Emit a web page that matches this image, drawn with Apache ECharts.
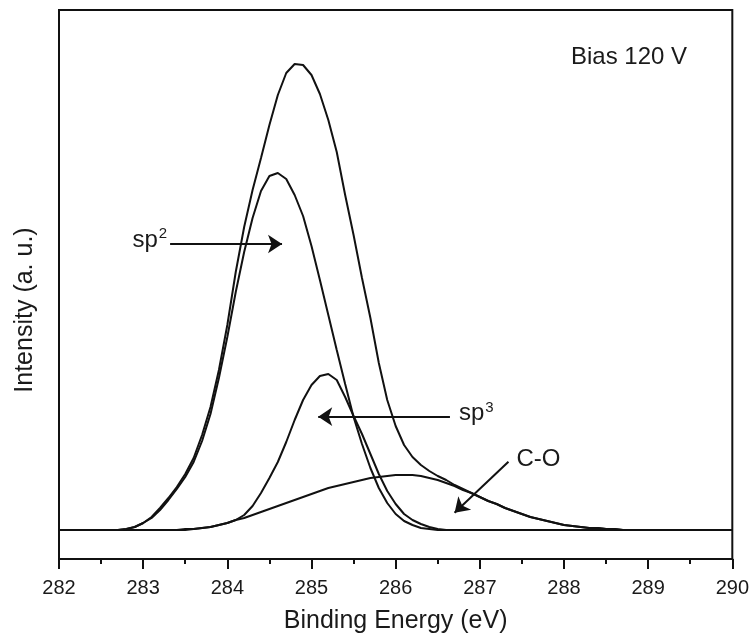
<!DOCTYPE html>
<html>
<head>
<meta charset="utf-8">
<script src="https://cdn.jsdelivr.net/npm/echarts@6/dist/echarts.min.js"></script>
<style>
html, body { margin: 0; padding: 0; background: #fff; }
#chart { width: 752px; height: 639px; }
</style>
</head>
<body>
<div id="chart"></div>
<script>
// binding energy grid (eV)
var energy = [282.0,
  282.6, 282.7, 282.8, 282.9,
  283.0, 283.1, 283.2, 283.3, 283.4, 283.5, 283.6, 283.7, 283.8, 283.9,
  284.0, 284.1, 284.2, 284.3, 284.4, 284.5, 284.6, 284.7, 284.8, 284.9,
  285.0, 285.1, 285.2, 285.3, 285.4, 285.5, 285.6, 285.7, 285.8, 285.9,
  286.0, 286.1, 286.2, 286.3, 286.4, 286.5, 286.6, 286.7, 286.8, 286.9,
  287.0, 287.1, 287.2, 287.3, 287.4, 287.5, 287.6, 287.7, 287.8, 287.9,
  288.0, 288.1, 288.2, 288.3, 288.4, 288.5, 288.6, 288.7, 288.8, 288.9,
  289.0, 290.0];

// measured envelope
var envelope = [0,
  0, 0, 1, 3,
  7, 13, 22, 32, 43, 56, 72, 95, 123, 160,
  205, 258, 303, 340, 372, 405, 435, 457, 466, 465,
  455, 436, 410, 378, 335, 295, 252, 212, 167, 130,
  104, 85, 73, 65, 59, 54, 50, 45, 41, 37,
  33, 29, 26, 22, 19, 16, 13, 11, 9, 7,
  5, 4, 3, 2, 2, 1, 1, 0, 0, 0,
  0, 0];

// sp2 component
var sp2 = [0,
  0, 0, 1, 3,
  7, 12, 20, 30, 41, 53, 68, 89, 116, 152,
  193, 238, 278, 312, 339, 354, 357, 351, 335, 314,
  284, 250, 215, 180, 146, 113, 86, 62, 42, 27,
  16, 9, 5, 2, 1, 0, 0, 0, 0, 0,
  0, 0, 0, 0, 0, 0, 0, 0, 0, 0,
  0, 0, 0, 0, 0, 0, 0, 0, 0, 0,
  0, 0];

// sp3 component
var sp3 = [0,
  0, 0, 0, 0,
  0, 0, 0, 0, 0, 0, 1, 2, 3, 5,
  7, 10, 15, 24, 37, 52, 68, 88, 110, 130,
  145, 154, 156, 150, 133, 114, 96, 76, 56, 39,
  26, 16, 10, 6, 3, 1, 0, 0, 0, 0,
  0, 0, 0, 0, 0, 0, 0, 0, 0, 0,
  0, 0, 0, 0, 0, 0, 0, 0, 0, 0,
  0, 0];

// C-O component
var co = [0,
  0, 0, 0, 0,
  0, 0, 0, 0, 0, 1, 1, 2, 3, 5,
  7, 10, 12, 15, 18, 21, 24, 27, 30, 33,
  36, 39, 42, 44, 46, 48, 50, 52, 53, 54,
  55, 55, 55, 54, 52, 50, 47, 44, 40, 37,
  33, 29, 26, 22, 19, 16, 13, 11, 9, 7,
  5, 4, 3, 2, 2, 1, 1, 0, 0, 0,
  0, 0];

var xTicks = [282, 283, 284, 285, 286, 287, 288, 289, 290];

var font = '"Liberation Sans", Arial, sans-serif';
var ink = '#111';

function pairs(ys) {
  return energy.map(function (e, i) { return [e, ys[i]]; });
}

function curve(name, ys, extra) {
  var s = {
    name: name,
    type: 'line',
    data: pairs(ys),
    symbol: 'none',
    silent: true,
    lineStyle: { color: ink, width: 2 },
    z: 3
  };
  for (var k in extra) s[k] = extra[k];
  return s;
}

var chart = echarts.init(document.getElementById('chart'));
chart.setOption({
  animation: false,
  backgroundColor: '#fff',
  grid: {
    left: 59, right: 19, top: 10, bottom: 80,
    show: true, borderColor: ink, borderWidth: 2
  },
  xAxis: {
    type: 'value',
    min: xTicks[0],
    max: xTicks[xTicks.length - 1],
    interval: xTicks[1] - xTicks[0],
    axisLine: { onZero: false, lineStyle: { color: ink, width: 2 } },
    axisTick: { length: 10, lineStyle: { color: ink, width: 2 } },
    minorTick: { show: true, splitNumber: 2, length: 5, lineStyle: { color: ink, width: 2 } },
    splitLine: { show: false },
    axisLabel: { fontSize: 20, color: '#1a1a1a', fontFamily: font, margin: 19 },
    name: 'Binding Energy (eV)',
    nameLocation: 'middle',
    nameGap: 50,
    nameTextStyle: { fontSize: 25, color: '#1a1a1a', fontFamily: font }
  },
  yAxis: {
    type: 'value',
    min: -29,
    max: 520,
    axisLine: { show: true, lineStyle: { color: ink, width: 2 } },
    axisTick: { show: false },
    axisLabel: { show: false },
    splitLine: { show: false },
    name: 'Intensity (a. u.)',
    nameLocation: 'middle',
    nameGap: 21,
    nameTextStyle: { fontSize: 25, color: '#1a1a1a', fontFamily: font, padding: [0, 51, 0, 0] }
  },
  graphic: [{
    type: 'text',
    left: 571,
    top: 45,
    style: { text: 'Bias 120 V', font: '24px ' + font, fill: '#1a1a1a' }
  }],
  series: [
    curve('C-O', co),
    curve('sp3', sp3),
    curve('sp2', sp2),
    curve('Envelope', envelope, {
      markLine: {
        silent: true,
        symbol: ['none', 'arrow'],
        symbolSize: 14,
        lineStyle: { type: 'solid', color: ink, width: 2 },
        label: { show: false },
        data: [
          [{ coord: [283.32, 286] }, { coord: [284.65, 286] }],
          [{ coord: [286.645, 113.3] }, { coord: [285.08, 113.3] }],
          [{ coord: [287.34, 68.3] }, { coord: [286.70, 17.3] }]
        ]
      },
      markPoint: {
        silent: true,
        symbol: 'circle',
        symbolSize: 0,
        label: {
          show: true,
          color: '#1a1a1a',
          fontFamily: font,
          fontSize: 24,
          rich: {
            b: { fontSize: 24, fontFamily: font, color: '#1a1a1a' },
            s: { fontSize: 15, fontFamily: font, color: '#1a1a1a', padding: [0, 0, 12, 1] }
          }
        },
        data: [
          { coord: [283.32, 286], label: { position: 'left', distance: 3, offset: [0, -4], formatter: '{b|sp}{s|2}' } },
          { coord: [286.645, 113.3], label: { position: 'right', distance: 9, offset: [0, -3], formatter: '{b|sp}{s|3}' } },
          { coord: [287.34, 68.3], label: { position: 'right', distance: 8, offset: [0, -2], formatter: 'C-O' } }
        ]
      }
    })
  ]
});
</script>
</body>
</html>
